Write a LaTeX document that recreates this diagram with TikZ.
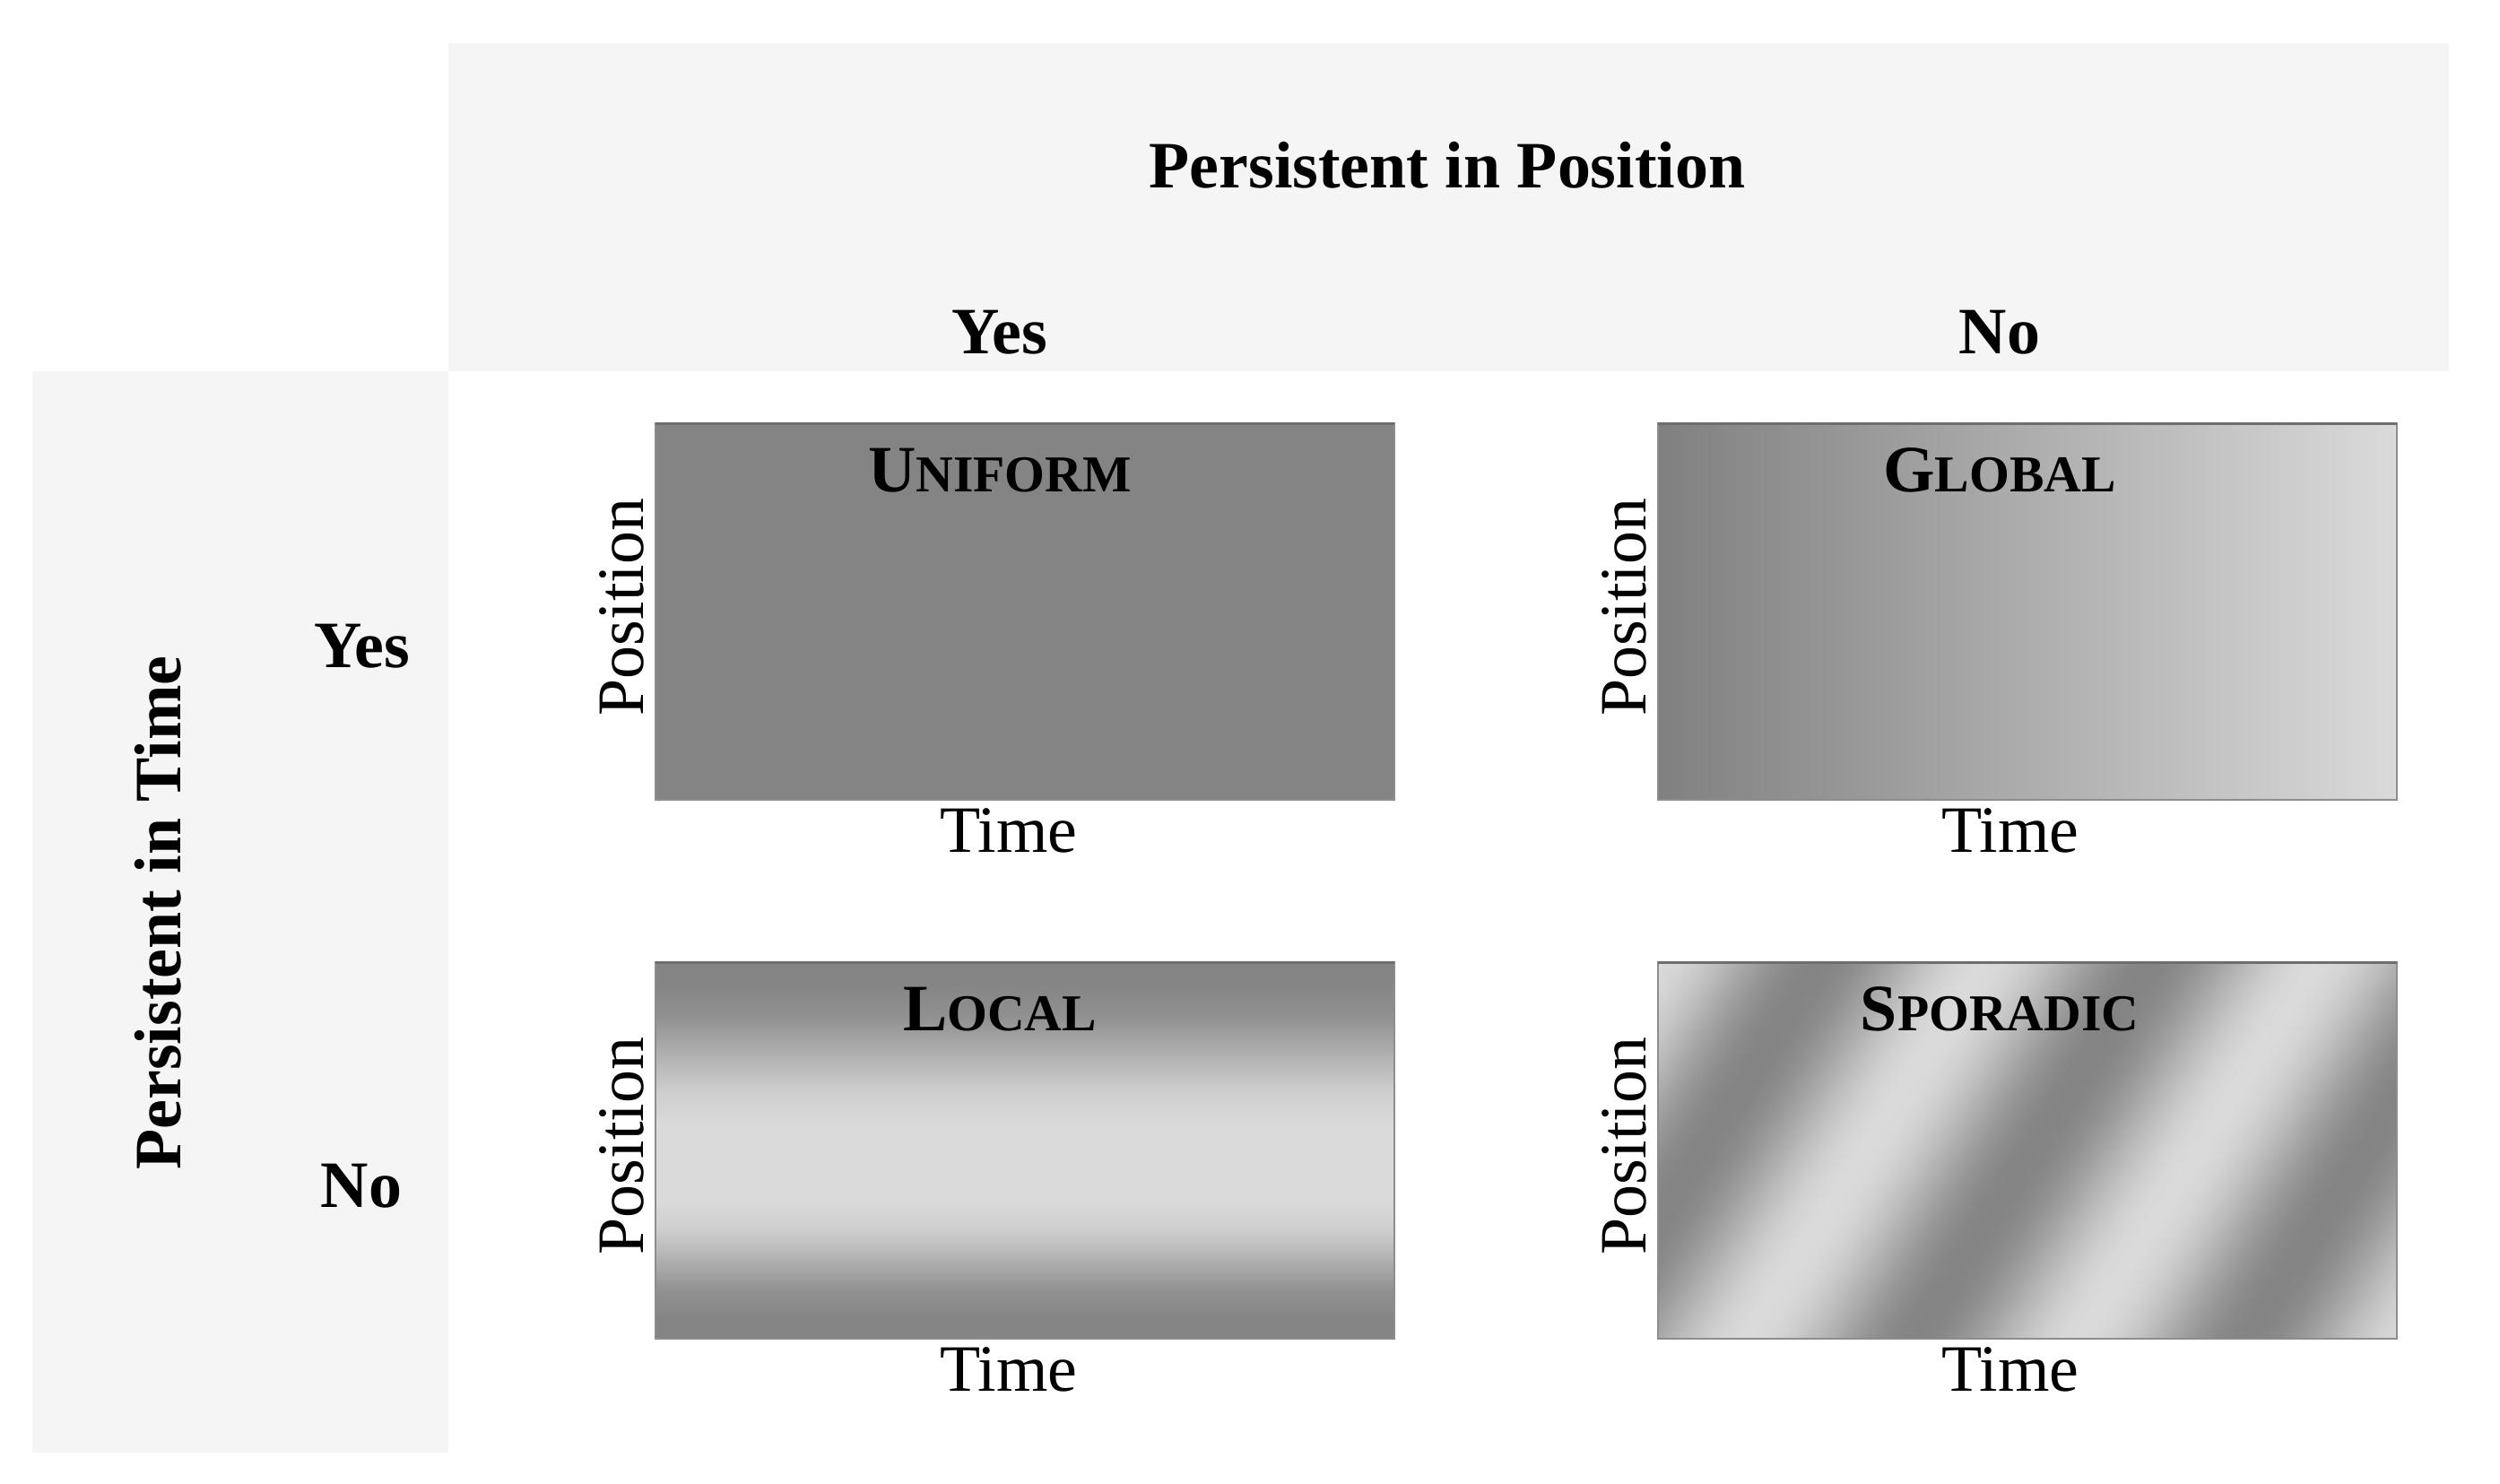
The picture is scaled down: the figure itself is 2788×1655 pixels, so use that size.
\documentclass[tikz,border=0pt]{standalone}
\usepackage{fontspec}
\setmainfont{Liberation Serif}
\definecolor{panel}{HTML}{F5F5F5}
\definecolor{dk}{HTML}{848484}
\definecolor{dkl}{HTML}{808080}
\definecolor{lt}{HTML}{DADADA}
\definecolor{edge}{HTML}{8E8E8E}
\definecolor{edgetop}{HTML}{6E6E6E}
\colorlet{mixa}{lt!15!dk}
\colorlet{mixb}{lt!50!dk}
\colorlet{mixc}{lt!85!dk}
\newcommand\fakesc[2]{#1{\fontsize{16.4}{19}\selectfont #2}}
\pgfdeclareverticalshading{localsh}{100bp}{color(0bp)=(dk); color(27.5bp)=(dk); color(31.4bp)=(mixa); color(35.35bp)=(mixb); color(39.3bp)=(mixc); color(43.2bp)=(lt); color(53.25bp)=(lt); color(58.06bp)=(mixc); color(62.9bp)=(mixb); color(67.7bp)=(mixa); color(72.5bp)=(dk); color(100bp)=(dk)}
\begin{document}
\begin{tikzpicture}[x=0.01cm,y=-0.01cm,
  every node/.style={inner sep=0pt, outer sep=0pt},
  txt/.style={font=\fontsize{21}{25}\selectfont, anchor=base},
  hdr/.style={font=\fontsize{21}{25}\selectfont\bfseries, anchor=base},
  ttl/.style={font=\fontsize{21}{25}\selectfont\bfseries, anchor=base},
  box/.style={draw=edge, line width=0.02cm, minimum width=8.24cm, minimum height=4.19cm}]
\useasboundingbox[fill=white] (0,0) rectangle (2788,1655);
% panels
\fill[panel] (500,48) rectangle (2731,414);
\fill[panel] (36,414) rectangle (500,1620);
% headers
\node[hdr] (pip) at (1614,210) {Persistent in Position};
\node[hdr] (cyes) at (1115,395) {Yes};
\node[hdr] (cno) at (2230,395) {No};
\node[hdr, rotate=90] (pit) at (201,1018) {Persistent in Time};
\node[hdr] (ryes) at (404,744) {Yes};
\node[hdr] (rno) at (403,1346) {No};
% boxes
\node[box, fill=dk] (uni) at (1143,682) {};
\node[box, left color=dkl, right color=lt] (glo) at (2261,682) {};
\node[box, shading=localsh] (loc) at (1143,1283) {};
\path node[minimum width=8.24cm, minimum height=4.19cm] (spo) at (2261,1283) {};
\begin{scope}
\clip (spo.south west) rectangle (spo.north east);
\foreach \i in {0,...,280}{
  \pgfmathsetmacro\xt{1845+\i*4}
  \pgfmathsetmacro\p{50+50*cos((\xt+2-2216.5)/370*360)}
  \fill[lt!\p!dk] (\xt,1070) -- (\xt+4.6,1070) -- (\xt+4.6-269,1497) -- (\xt-269,1497) -- cycle;
}
\end{scope}
\draw[edge, line width=0.02cm] (spo.south west) rectangle (spo.north east);
\foreach \b in {uni,glo,loc,spo}{
  \draw[edgetop, line width=0.025cm] (\b.north west) -- (\b.north east);
}
% titles
\node[ttl] (tuni) at (1115,548) {\fakesc{U}{NIFORM}};
\node[ttl] (tglo) at (2230,548) {\fakesc{G}{LOBAL}};
\node[ttl] (tloc) at (1115,1149) {\fakesc{L}{OCAL}};
\node[ttl] (tspo) at (2230,1149) {\fakesc{S}{PORADIC}};
% axis labels
\node[txt, rotate=90] (puni) at (717,677) {Position};
\node[txt, rotate=90] (pglo) at (1835,677) {Position};
\node[txt, rotate=90] (ploc) at (717,1278) {Position};
\node[txt, rotate=90] (pspo) at (1835,1278) {Position};
\node[txt] (tmuni) at (1125,950) {Time};
\node[txt] (tmglo) at (2242,950) {Time};
\node[txt] (tmloc) at (1125,1551) {Time};
\node[txt] (tmspo) at (2242,1551) {Time};
\end{tikzpicture}
\end{document}
